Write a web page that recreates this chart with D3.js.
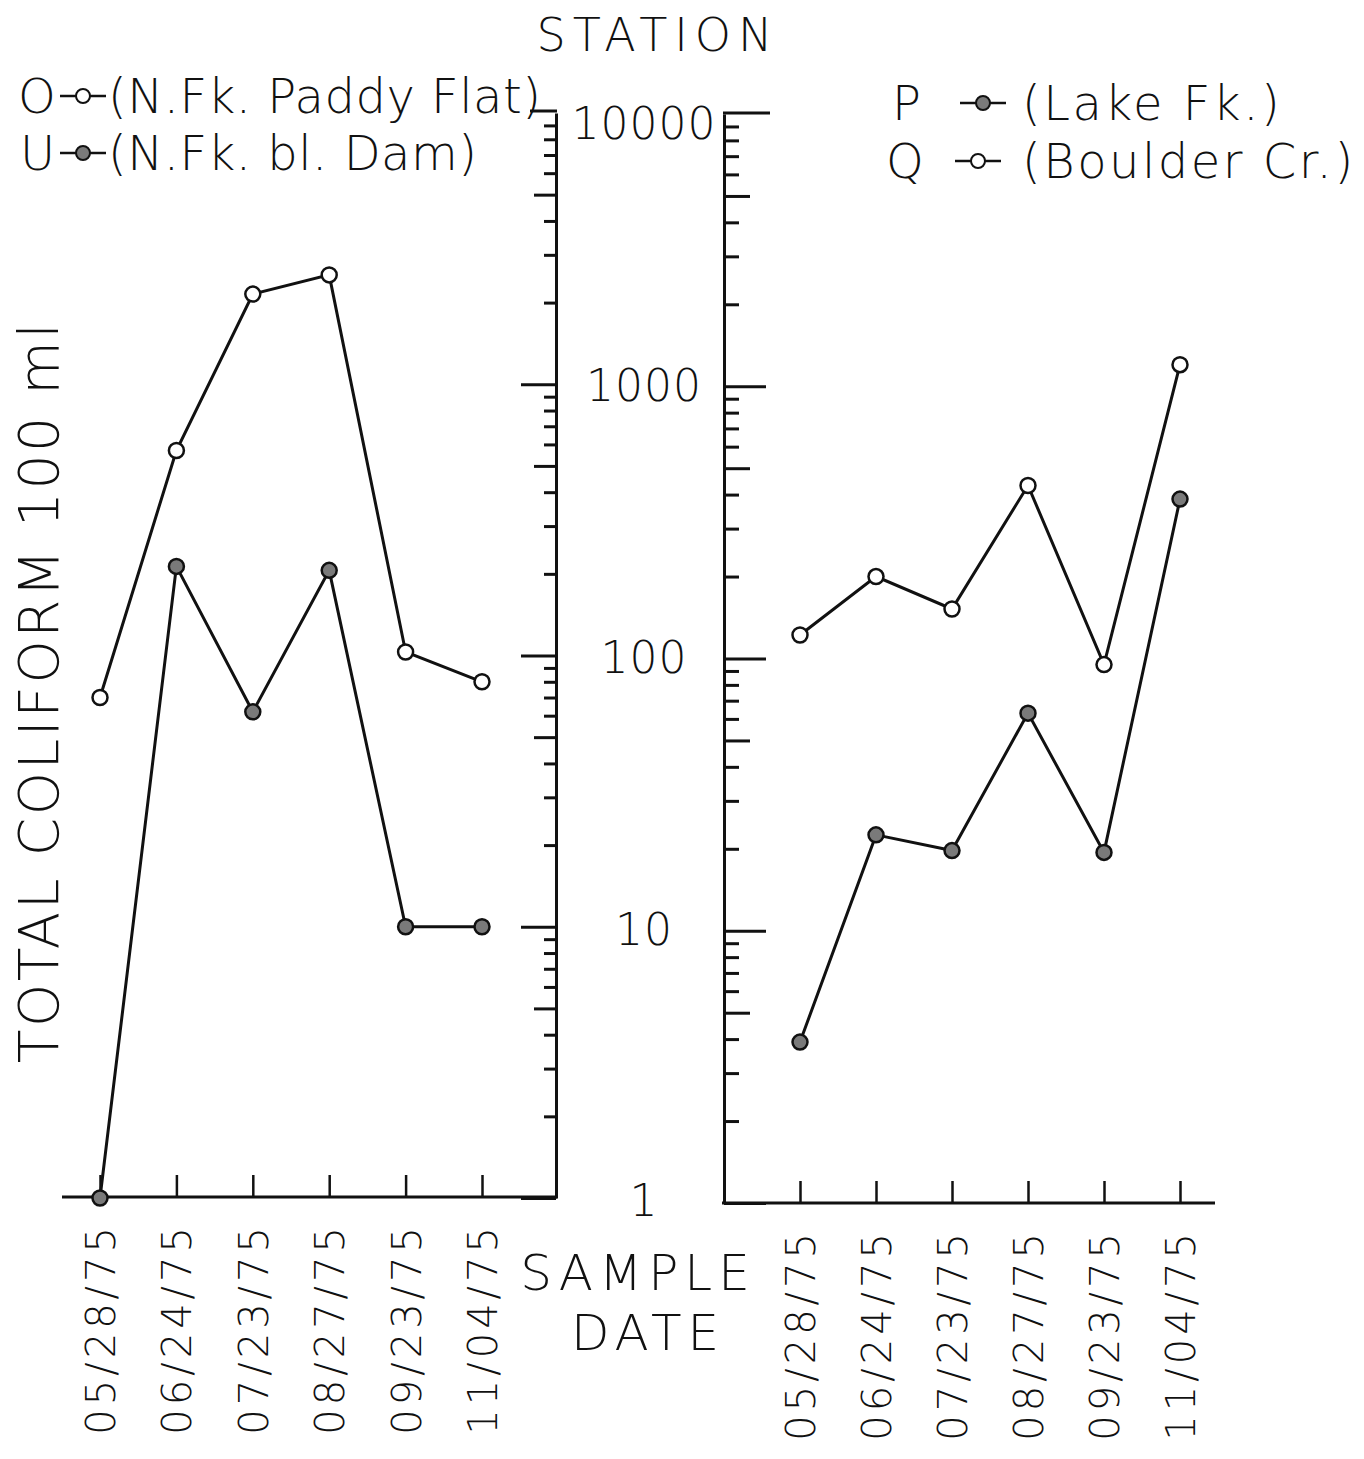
<!DOCTYPE html>
<html>

<head>
    <title>Total Coliform by Station</title>
    <script src="https://d3js.org/d3.v7.min.js"></script>
    <style>
        body {
            margin: 0;
            background: #fff;
        }

        text {
            font-family: "DejaVu Sans", sans-serif;
            font-weight: 200;
            fill: #111;
        }

        .axis path,
        .axis line {
            stroke: #111;
            stroke-width: 3px;
        }

        .series {
            fill: none;
            stroke: #111;
            stroke-width: 3px;
        }
    </style>
</head>

<body>
    <script>
        // sample dates (same on both panels)
        var dates = ["05/28/75", "06/24/75", "07/23/75", "08/27/75", "09/23/75", "11/04/75"];

        // left panel
        var stationO = [70, 570, 2150, 2530, 103, 80];   // N.Fk. Paddy Flat, open
        var stationU = [1, 213, 62, 206, 10, 10];        // N.Fk. bl. Dam, filled

        // right panel
        var stationQ = [122, 200, 152, 432, 95, 1200];   // Boulder Cr., open
        var stationP = [3.9, 22.5, 19.7, 63, 19.4, 385]; // Lake Fk., filled

        var majorTicks = [1, 10, 100, 1000, 10000];
        var tickLabels = ["1", "10", "100", "1000", "10000"];

        var width = 1364, height = 1459;

        var svg = d3.select("body").append("svg")
            .attr("width", width)
            .attr("height", height);

        var yL = d3.scaleLog().domain([1, 10000]).range([1198, 113]);
        var yR = d3.scaleLog().domain([1, 10000]).range([1203, 114]);
        var xL = d3.scalePoint().domain(dates).range([100, 482]);
        var xR = d3.scalePoint().domain(dates).range([800, 1180]);

        var minor = [], fives = [];
        [1, 10, 100, 1000].forEach(function (d) {
            [2, 3, 4, 6, 7, 8, 9].forEach(function (m) { minor.push(d * m); });
            fives.push(d * 5);
        });

        function yAxes(g, y, dir, sizes, x0) {
            var make = dir === "left" ? d3.axisLeft : d3.axisRight;
            [[majorTicks.slice(0, 4), sizes[0]], [fives, sizes[1]], [minor, sizes[2]]].forEach(function (t, i) {
                var a = g.append("g")
                    .attr("class", "axis")
                    .attr("transform", "translate(" + x0 + ",0)")
                    .call(make(y).tickValues(t[0]).tickSize(t[1]).tickSizeOuter(0).tickFormat(""));
                if (i > 0) a.select(".domain").remove();
            });
        }

        // left y axis with ticks pointing left
        var left = svg.append("g");
        yAxes(left, yL, "left", [35, 22, 12], 556);
        left.append("line")
            .attr("x1", 530).attr("x2", 557)
            .attr("y1", yL(10000) - 2).attr("y2", yL(10000) - 2)
            .style("stroke", "#111").style("stroke-width", 3);

        // right y axis with ticks pointing right
        var right = svg.append("g");
        yAxes(right, yR, "right", [42, 26, 15], 724);
        right.append("line")
            .attr("x1", 723).attr("x2", 770)
            .attr("y1", yR(10000) - 1).attr("y2", yR(10000) - 1)
            .style("stroke", "#111").style("stroke-width", 3);

        // shared tick labels between the two axes
        svg.selectAll(".ylab")
            .data(majorTicks)
            .enter()
            .append("text")
            .attr("class", "ylab")
            .attr("x", 644)
            .attr("y", (d, i) => (yL(d) + yR(d)) / 2 + (d === 10000 ? 10 : 0))
            .attr("dy", "0.36em")
            .attr("text-anchor", "middle")
            .style("font-size", "44px")
            .style("letter-spacing", "1px")
            .text((d, i) => tickLabels[i]);

        // x axes
        function xAxis(x, y0, x1, x2) {
            svg.append("line")
                .attr("x1", x1).attr("x2", x2)
                .attr("y1", y0).attr("y2", y0)
                .style("stroke", "#111").style("stroke-width", 3);
            var g = svg.append("g")
                .attr("class", "axis")
                .attr("transform", "translate(0," + y0 + ")")
                .call(d3.axisBottom(x).tickSizeInner(-22).tickSizeOuter(0).tickPadding(0));
            g.select(".domain").remove();
            g.selectAll("line").style("stroke-width", 2.5);
            g.selectAll("text")
                .attr("transform", "translate(0,26) rotate(-90)")
                .attr("x", 0).attr("y", 0)
                .attr("dy", "0.36em")
                .attr("text-anchor", "end")
                .style("font-size", "40px")
                .style("letter-spacing", "4px")
                .style("font-family", "'DejaVu Sans', sans-serif")
                .style("font-weight", 200);
        }
        xAxis(xL, 1197, 62, 557);
        xAxis(xR, 1203, 722, 1215);

        // series
        function series(x, y, values, filled) {
            svg.append("path")
                .datum(values)
                .attr("class", "series")
                .attr("d", d3.line().x((d, i) => x(dates[i])).y(d => y(d)));
            svg.selectAll(null)
                .data(values)
                .enter()
                .append("circle")
                .attr("cx", (d, i) => x(dates[i]))
                .attr("cy", d => y(d))
                .attr("r", 7.5)
                .style("fill", filled ? "#7a7a7a" : "#fff")
                .style("stroke", "#111")
                .style("stroke-width", 2.5);
        }
        series(xL, yL, stationO, false);
        series(xL, yL, stationU, true);
        series(xR, yR, stationQ, false);
        series(xR, yR, stationP, true);

        // titles
        svg.append("text")
            .attr("x", 658).attr("y", 51)
            .attr("text-anchor", "middle")
            .style("font-size", "46px")
            .style("letter-spacing", "7px")
            .text("STATION");

        svg.append("text")
            .attr("transform", "translate(58,692) rotate(-90)")
            .attr("text-anchor", "middle")
            .style("font-size", "55px")
            .style("letter-spacing", "2.5px")
            .text("TOTAL COLIFORM  100 ml");

        svg.append("text")
            .attr("x", 638).attr("y", 1290)
            .attr("text-anchor", "middle")
            .style("font-size", "50px")
            .style("letter-spacing", "6px")
            .text("SAMPLE");
        svg.append("text")
            .attr("x", 648).attr("y", 1350)
            .attr("text-anchor", "middle")
            .style("font-size", "50px")
            .style("letter-spacing", "6px")
            .text("DATE");

        // legends
        var legend = [
            { id: "O", name: "(N.Fk. Paddy Flat)", filled: false, x: 18, sx: 60, tx: 108, y: 96 },
            { id: "U", name: "(N.Fk. bl. Dam)", filled: true, x: 20, sx: 60, tx: 108, y: 153 },
            { id: "P", name: "(Lake Fk.)", filled: true, x: 892, sx: 960, tx: 1022, y: 103 },
            { id: "Q", name: "(Boulder Cr.)", filled: false, x: 886, sx: 955, tx: 1022, y: 161 }
        ];
        var lg = svg.selectAll(".leg")
            .data(legend)
            .enter()
            .append("g")
            .attr("class", "leg");
        lg.append("text")
            .attr("x", d => d.x).attr("y", d => d.y)
            .attr("dy", "0.36em")
            .style("font-size", "48px")
            .text(d => d.id);
        lg.append("line")
            .attr("x1", d => d.sx).attr("x2", d => d.sx + 46)
            .attr("y1", d => d.y).attr("y2", d => d.y)
            .style("stroke", "#111").style("stroke-width", 2.5);
        lg.append("circle")
            .attr("cx", d => d.sx + 23).attr("cy", d => d.y)
            .attr("r", 7)
            .style("fill", d => d.filled ? "#7a7a7a" : "#fff")
            .style("stroke", "#111").style("stroke-width", 2);
        lg.append("text")
            .attr("x", d => d.tx).attr("y", d => d.y)
            .attr("dy", "0.36em")
            .style("font-size", "48px")
            .style("letter-spacing", d => d.x > 500 ? "2.5px" : "0.5px")
            .text(d => d.name);
    </script>
</body>

</html>
